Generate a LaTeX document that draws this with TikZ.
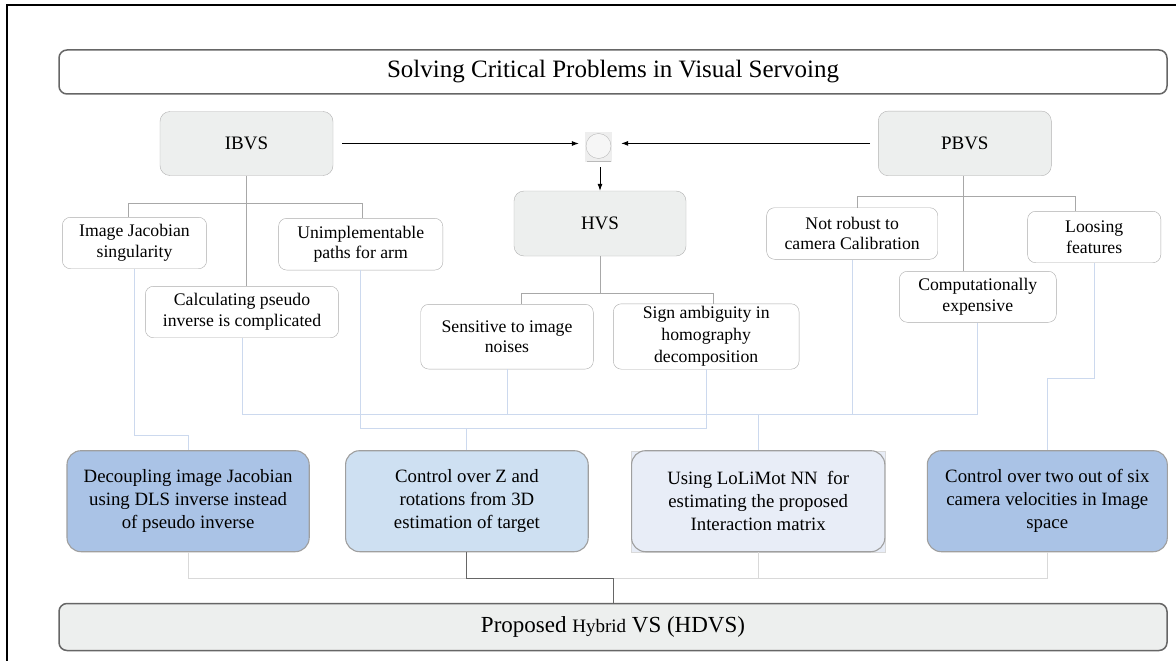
\documentclass[tikz,border=0pt]{standalone}
\usepackage{fontspec}
\setmainfont{Liberation Serif}
\usetikzlibrary{arrows.meta,calc}
\definecolor{boxgray}{HTML}{EDEFEE}
\definecolor{bluemid}{HTML}{AAC3E6}
\definecolor{bluelight}{HTML}{CEE0F2}
\definecolor{bluepale}{HTML}{E8EDF7}
\definecolor{linkblue}{HTML}{CCD9EE}
\definecolor{linkgray}{HTML}{A8A8A8}
\definecolor{darkline}{HTML}{666666}
\begin{document}
\begin{tikzpicture}[x=1pt,y=-1pt,
  sbox/.style={draw=gray!65, fill=white, rounded corners=8pt, inner sep=0pt, align=center,
    font=\fontsize{17.7}{20.7}\selectfont},
  gbox/.style={draw=gray!60, fill=boxgray, rounded corners=10pt, inner sep=0pt,
    font=\fontsize{19}{22}\selectfont},
  bbox/.style={draw=gray!75, line width=1.1pt, rounded corners=14pt, inner sep=0pt, align=center,
    font=\fontsize{18.8}{23}\selectfont},
  widebox/.style={draw=darkline, line width=1.5pt, rounded corners=8pt, inner sep=0pt},
  arr/.style={-{Latex[length=7pt,width=5pt]}, line width=0.8pt, black},
  glink/.style={draw=linkgray, line width=0.8pt},
  blink/.style={draw=linkblue, line width=0.9pt},
  llink/.style={draw=gray!30, line width=0.9pt},
  dlink/.style={draw=darkline, line width=0.9pt}]
\useasboundingbox (0,0) rectangle (1176,661);
\fill[white] (0,0) rectangle (1176,661);
\draw[line width=2pt] (7,661) -- (7,5) -- (1176,5);

% title and result
\node[widebox, fill=white, minimum width=1108pt, minimum height=44pt,
  font=\fontsize{25}{28}\selectfont] (title) at (613,72) {Solving Critical Problems in Visual Servoing};
\node[widebox, fill=boxgray, minimum width=1108pt, minimum height=47pt,
  font=\fontsize{23}{26}\selectfont] (hdvs) at (613,627) {Proposed {\fontsize{19}{22}\selectfont Hybrid} VS (HDVS)};

% main approaches
\node[gbox, minimum width=173pt, minimum height=64pt] (ibvs) at (246.5,143.5) {IBVS};
\node[gbox, minimum width=172pt, minimum height=65pt] (hvs) at (600,223.5) {HVS};
\node[gbox, minimum width=173pt, minimum height=64.7pt] (pbvs) at (964.8,143.4) {PBVS};

% hub
\node[fill=gray!13, minimum width=27pt, minimum height=30pt, inner sep=0pt] (hubbg) at (598.5,147) {};
\node[circle, draw=gray!55, fill=gray!7, minimum size=25pt, inner sep=0pt] (hub) at (598.5,146) {};
\draw[gray!55, line width=1.2pt] ([xshift=-12pt,yshift=1pt]hubbg.south) -- ([xshift=12pt,yshift=1pt]hubbg.south);

% problems
\node[sbox, minimum width=144.3pt, minimum height=51.4pt] (ijs) at (134.5,243) {Image Jacobian\\singularity};
\node[sbox, minimum width=164.2pt, minimum height=51.7pt] (uip) at (360.7,244.2) {Unimplementable\\paths for arm};
\node[sbox, minimum width=193.3pt, minimum height=51.4pt] (calc) at (242,312) {Calculating pseudo\\inverse is complicated};
\node[sbox, minimum width=172.6pt, minimum height=64.7pt] (sens) at (507,336.7) {Sensitive to image\\noises};
\node[sbox, minimum width=185.7pt, minimum height=65.4pt, font=\fontsize{17.7}{22}\selectfont] (sign) at (706.2,336.5) {Sign ambiguity in\\homography\\decomposition};
\node[sbox, minimum width=171.1pt, minimum height=51.6pt] (notr) at (852.2,233.5) {Not robust to\\camera Calibration};
\node[sbox, minimum width=133.2pt, minimum height=51.4pt] (loose) at (1094.2,237) {Loosing\\features};
\node[sbox, minimum width=157pt, minimum height=51pt] (comp) at (977.8,296.8) {Computationally\\expensive};

% solutions
\node[bbox, fill=bluemid, minimum width=242.2pt, minimum height=101pt] (dec) at (188.1,501.2)
  {Decoupling image Jacobian\\using DLS inverse instead\\of pseudo inverse};
\node[bbox, fill=bluelight, minimum width=242.6pt, minimum height=101pt] (cz) at (466.9,501.2)
  {Control over Z and\\rotations from 3D\\estimation of target};
\node[draw=gray!30, fill=bluepale, minimum width=253.3pt, minimum height=101pt, inner sep=0pt] (lolbg) at (758.2,501.2) {};
\node[bbox, fill=bluepale, minimum width=253.3pt, minimum height=101pt] (lol) at (758.2,501.2)
  {Using LoLiMot NN\ \ for\\estimating the proposed\\Interaction matrix};
\node[bbox, fill=bluemid, minimum width=240pt, minimum height=101pt] (ctwo) at (1047.3,501.2)
  {Control over two out of six\\camera velocities in Image\\space};

% arrows to hub
\draw[arr, shorten <=9pt, shorten >=7pt] (ibvs.east) -- (ibvs.east -| hub.west);
\draw[arr, shorten <=8pt, shorten >=10pt] (pbvs.west) -- (pbvs.west -| hub.east);
\draw[arr, shorten <=5pt] (hubbg.south -| hvs.north) -- (hvs.north);

% tree links (gray)
\draw[glink] (ibvs.south) -- (ibvs.south |- calc.north);
\draw[glink] ([xshift=-6pt]ijs.north) -- ++(0,-14) -| ([xshift=2pt]uip.north);
\draw[glink] (hvs.south) -- ++(0,37);
\draw[glink] ([xshift=14pt]sens.north) -- ++(0,-11) -| ([xshift=7pt]sign.north);
\draw[glink] ([xshift=-1.5pt]pbvs.south) -- ([xshift=-1.5pt]pbvs.south |- comp.north);
\draw[glink] ([xshift=5pt]notr.north) -- ++(0,-11) -| ([xshift=-19pt]loose.north);

% problem -> solution links (light blue)
\coordinate (busA) at (0,435);
\coordinate (busB) at (0,414);
\coordinate (busC) at (0,428.5);
\coordinate (busD) at (0,378);
\coordinate (busE) at (0,578);
\draw[blink] (ijs.south) |- (busA -| dec.north) -- (dec.north);
\draw[blink] (calc.south) |- (busB -| comp.south) -- (comp.south);
\draw[blink] (sens.south) -- (sens.south |- busB);
\draw[blink] (notr.south) -- (notr.south |- busB);
\draw[blink] (lol.north) -- (lol.north |- busB);
\draw[blink] (uip.south) |- (busC -| sign.south) -- (sign.south);
\draw[blink] (cz.north) -- (cz.north |- busC);
\draw[blink] (loose.south) |- (busD -| ctwo.north) -- (ctwo.north);

% solutions -> result
\draw[llink] (dec.south) |- (busE -| ctwo.south) -- (ctwo.south);
\draw[llink] (lol.south) -- (lol.south |- busE);
\draw[dlink] (cz.south) |- (busE -| hdvs.north) -- (hdvs.north);
\end{tikzpicture}
\end{document}
